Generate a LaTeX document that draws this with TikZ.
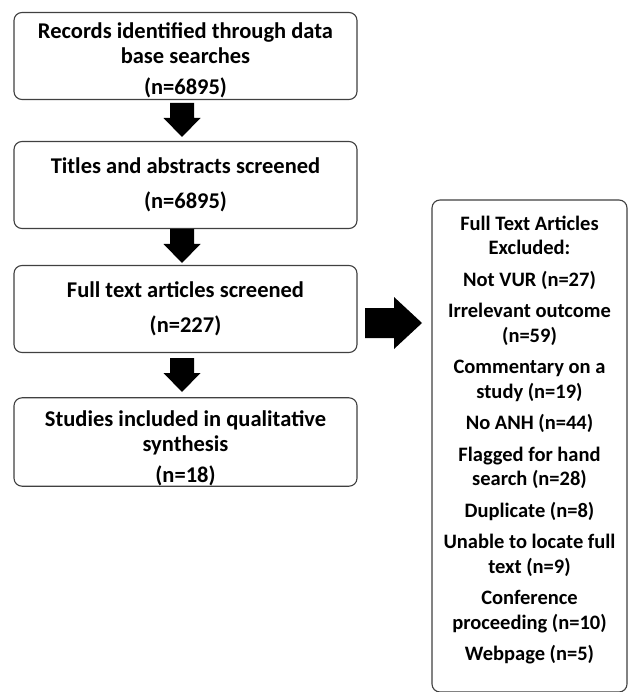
\documentclass[tikz,border=0pt]{standalone}
\usepackage{fontspec}
\setmainfont{Carlito}
\usetikzlibrary{positioning}
\newcommand{\blockdown}[1]{
\fill (#1) ++(-12,17) -- ++(24,0) -- ++(0,-15) -- ++(6.5,0) -- ++(-18.5,-19) -- ++(-18.5,19) -- ++(6.5,0) -- cycle;
}
\tikzset{
stepbox/.style={draw=black!75, line width=1.1pt, rounded corners=8pt, fill=white,
  minimum width=343pt, minimum height=87pt, align=center, inner sep=0pt,
  font=\bfseries\fontsize{22.5}{24.5}\selectfont},
exclbox/.style={stepbox, minimum width=195pt, minimum height=492pt,
  font=\bfseries\fontsize{20.5}{24.5}\selectfont},
}

\begin{document}
\begin{tikzpicture}[x=1pt, y=1pt]
\useasboundingbox (0,0) rectangle (628,-692);
\path (185.5,-56) node[stepbox, text height=81pt] (rec) {Records identified through data\\base searches\\[7pt](n=6895)};
\path (185.5,-185) node[stepbox] (tit) {Titles and abstracts screened\\[10pt](n=6895)};
\path (185.5,-309) node[stepbox] (ful) {Full text articles screened\\[10pt](n=227)};
\path (185.5,-442) node[stepbox, text height=85pt] (stu) {Studies included in qualitative\\synthesis\\[7pt](n=18)};
\path (529.5,-446) node[exclbox] (exc)
  {Full Text Articles\\Excluded:\\[7pt]Not VUR (n=27)\\[7pt]Irrelevant outcome\\(n=59)\\[7pt]Commentary on a\\study (n=19)\\[7pt]No ANH (n=44)\\[7pt]Flagged for hand\\search (n=28)\\[7pt]Duplicate (n=8)\\[7pt]Unable to locate full\\text (n=9)\\[7pt]Conference\\proceeding (n=10)\\[7pt]Webpage (n=5)\\[-9pt]};
% block arrows
\coordinate (a1) at (182,-120);
\coordinate (a2) at (182,-246);
\coordinate (a3) at (182,-375);
\blockdown{a1}
\blockdown{a2}
\blockdown{a3}
\coordinate (a4) at (394,-323);
\fill (a4) ++(-29,15) -- ++(29,0) -- ++(0,11) -- ++(28,-26) -- ++(-28,-26) -- ++(0,11) -- ++(-29,0) -- cycle;
\end{tikzpicture}
\end{document}
